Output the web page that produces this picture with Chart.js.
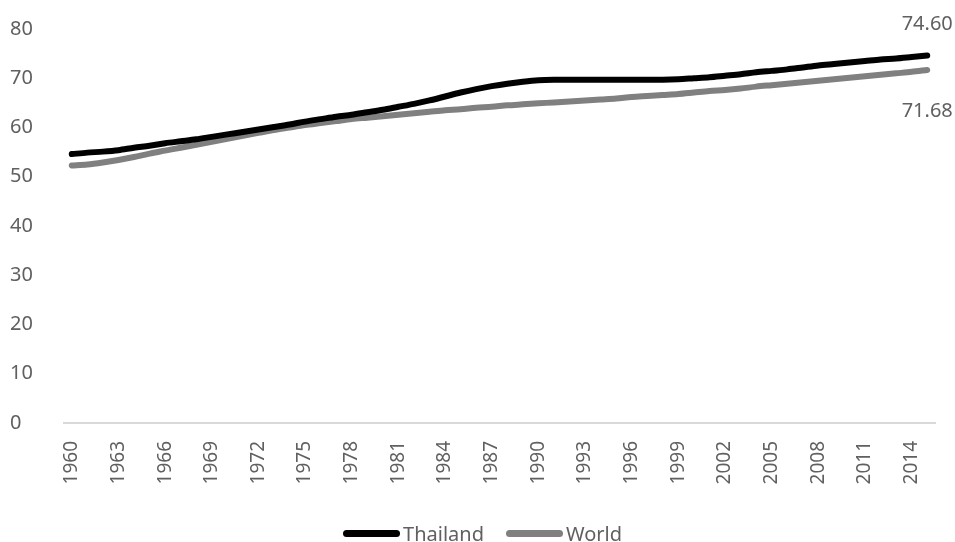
<!DOCTYPE html>
<html>
<head>
<meta charset="utf-8">
<script src="https://cdn.jsdelivr.net/npm/chart.js@4.4.1/dist/chart.umd.min.js"></script>
<style>
  html, body { margin: 0; padding: 0; background: #fff; }
  #wrap { position: relative; width: 955px; height: 542px; overflow: hidden; }
  #legend {
    position: absolute; left: 10px; right: 0; top: 518px; height: 30px;
    display: flex; justify-content: center; align-items: center;
    font-family: "Noto Sans", "Open Sans", sans-serif; font-size: 20px; color: #606060;
  }
  .item { display: flex; align-items: center; margin: 0 11px; }
  .swatch { width: 57px; height: 7px; border-radius: 4px; margin-right: 3px; }
</style>
</head>
<body>
<div id="wrap">
  <canvas id="lifeChart" width="955" height="542"></canvas>
  <div id="legend"></div>
</div>
<script>
// years 1960 - 2015
const years = [];
for (let y = 1960; y <= 2015; y++) years.push(String(y));

// life expectancy
const thailand = [
  54.6, 54.9, 55.1, 55.4, 55.9, 56.3, 56.8, 57.2, 57.6, 58.1,
  58.6, 59.1, 59.6, 60.1, 60.6, 61.2, 61.7, 62.2, 62.6, 63.1,
  63.6, 64.2, 64.8, 65.5, 66.3, 67.1, 67.8, 68.4, 68.9, 69.3,
  69.6, 69.7, 69.7, 69.7, 69.7, 69.7, 69.7, 69.7, 69.7, 69.8,
  70.0, 70.2, 70.5, 70.8, 71.2, 71.5, 71.8, 72.2, 72.6, 72.9,
  73.2, 73.5, 73.8, 74.0, 74.3, 74.60
];
const world = [
  52.3, 52.5, 52.9, 53.4, 54.0, 54.7, 55.3, 55.9, 56.5, 57.1,
  57.7, 58.3, 58.9, 59.5, 60.0, 60.5, 60.9, 61.3, 61.7, 62.0,
  62.3, 62.6, 62.9, 63.2, 63.5, 63.7, 64.0, 64.2, 64.5, 64.7,
  64.9, 65.1, 65.3, 65.5, 65.7, 65.9, 66.2, 66.4, 66.6, 66.8,
  67.1, 67.4, 67.6, 67.9, 68.3, 68.6, 68.9, 69.2, 69.5, 69.8,
  70.1, 70.4, 70.7, 71.0, 71.3, 71.68
];
const yTicks = [0, 10, 20, 30, 40, 50, 60, 70, 80];

const FONT = '"Noto Sans", "Open Sans", sans-serif';
const TXT = '#606060';

// labels on the last point of each series
const endLabels = {
  id: 'endLabels',
  afterDatasetsDraw(chart) {
    const ctx = chart.ctx;
    ctx.save();
    ctx.font = '20px ' + FONT;
    ctx.fillStyle = TXT;
    ctx.textAlign = 'center';
    ctx.textBaseline = 'middle';
    const offs = [-31, 41];
    chart.data.datasets.forEach((ds, i) => {
      const pts = chart.getDatasetMeta(i).data;
      const p = pts[pts.length - 1];
      const v = ds.data[ds.data.length - 1];
      ctx.fillText(v.toFixed(2), p.x, p.y + offs[i]);
    });
    ctx.restore();
  }
};

const chart = new Chart(document.getElementById('lifeChart'), {
  type: 'line',
  data: {
    labels: years,
    datasets: [
      {
        label: 'Thailand',
        data: thailand,
        borderColor: '#000000',
        backgroundColor: '#000000',
        borderWidth: 6,
        borderCapStyle: 'round',
        pointRadius: 0,
        tension: 0.3
      },
      {
        label: 'World',
        data: world,
        borderColor: '#808080',
        backgroundColor: '#808080',
        borderWidth: 6,
        borderCapStyle: 'round',
        pointRadius: 0,
        tension: 0.3
      }
    ]
  },
  options: {
    responsive: false,
    animation: false,
    layout: { padding: { left: 10, right: 20, top: 29, bottom: 39 } },
    plugins: {
      tooltip: { enabled: false },
      legend: { display: false }
    },
    scales: {
      x: {
        offset: true,
        grid: { display: false, drawTicks: false },
        border: { display: true, color: '#d9d9d9', width: 2 },
        ticks: {
          autoSkip: false,
          minRotation: 90,
          maxRotation: 90,
          padding: 18,
          color: TXT,
          font: { family: FONT, size: 19 },
          callback: function (val, idx) {
            return (idx % 3 === 0) ? years[idx] : '';
          }
        },
        afterFit(scale) {
          scale.height = 80;
          // don't let the rotated labels push the plot in from the sides
          scale.paddingLeft = 0;
          scale.paddingRight = 0;
        }
      },
      y: {
        min: 0,
        max: 80,
        afterBuildTicks(scale) { scale.ticks = yTicks.map(v => ({ value: v })); },
        grid: { display: false, drawTicks: false },
        border: { display: false },
        ticks: {
          color: TXT,
          crossAlign: 'far',
          font: { family: FONT, size: 20 }
        },
        afterFit(scale) { scale.width = 54; }
      }
    }
  },
  plugins: [endLabels]
});

// legend as html, built from the datasets
const legend = document.getElementById('legend');
chart.data.datasets.forEach(ds => {
  const item = document.createElement('div');
  item.className = 'item';
  const sw = document.createElement('span');
  sw.className = 'swatch';
  sw.style.background = ds.borderColor;
  const label = document.createElement('span');
  label.textContent = ds.label;
  item.appendChild(sw);
  item.appendChild(label);
  legend.appendChild(item);
});
</script>
</body>
</html>
